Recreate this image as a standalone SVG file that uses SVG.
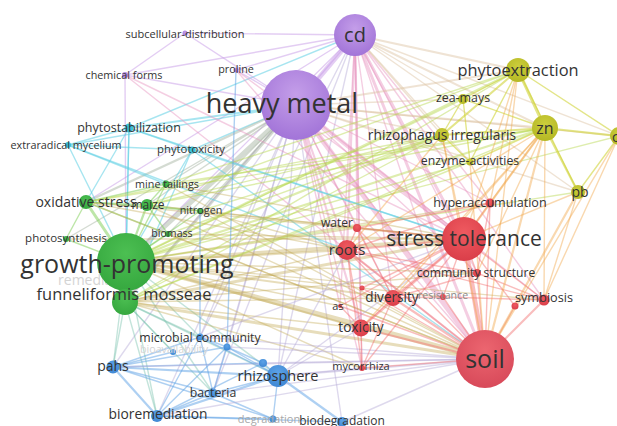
<svg xmlns="http://www.w3.org/2000/svg" width="617" height="426" viewBox="0 0 617 426">
<defs>
<radialGradient id="gp" cx="50%" cy="35%" r="65%"><stop offset="0" stop-color="#c49ee9"/><stop offset="1" stop-color="#a274d8"/></radialGradient>
<radialGradient id="gg" cx="50%" cy="35%" r="65%"><stop offset="0" stop-color="#4cbf52"/><stop offset="1" stop-color="#36a83f"/></radialGradient>
<radialGradient id="gr" cx="50%" cy="35%" r="65%"><stop offset="0" stop-color="#ef5a60"/><stop offset="1" stop-color="#da3e49"/></radialGradient>
<radialGradient id="gs" cx="50%" cy="35%" r="65%"><stop offset="0" stop-color="#ec6670"/><stop offset="1" stop-color="#d84a5a"/></radialGradient>
<radialGradient id="gb" cx="50%" cy="35%" r="65%"><stop offset="0" stop-color="#5ca2e6"/><stop offset="1" stop-color="#3f88d4"/></radialGradient>
<radialGradient id="gy" cx="50%" cy="35%" r="65%"><stop offset="0" stop-color="#ccce3c"/><stop offset="1" stop-color="#b5b824"/></radialGradient>
</defs>
<style>
line{stroke-linecap:round;stroke-width:1.4}
.p{stroke:#c79be8;stroke-opacity:.5}
.pk{stroke:#e793bf;stroke-opacity:.45}
.py{stroke:#dcc0a0;stroke-opacity:.45}
.pg{stroke:#a9b8a5;stroke-opacity:.5}
.c{stroke:#5fcfe3;stroke-opacity:.55}
.g{stroke:#7bcd52;stroke-opacity:.5}
.o{stroke:#c2aa56;stroke-opacity:.4}
.gy{stroke:#b6d84c;stroke-opacity:.45}
.gb{stroke:#7cc4b0;stroke-opacity:.45}
.b{stroke:#5ea1e6;stroke-opacity:.5}
.bp{stroke:#b6aad8;stroke-opacity:.45}
.r{stroke:#f26c6c;stroke-opacity:.45}
.ry{stroke:#f2a84e;stroke-opacity:.45}
.y{stroke:#d0d43a;stroke-opacity:.6}
.w2{stroke-width:2.2}.w3{stroke-width:3}.w4{stroke-width:4}.w5{stroke-width:5}
text{font-family:"Open Sans","Liberation Sans",sans-serif;fill:#333;text-anchor:middle}
.fp{fill:url(#gp)}.fg{fill:url(#gg)}.fr{fill:url(#gr)}.fs{fill:url(#gs)}.fb{fill:url(#gb)}.fy{fill:url(#gy)}.fc{fill:#3cc2d9}
.faded{fill:#d4d4d4}
</style>
<g id="connectors">
<line class="p w5" x1="355" y1="35" x2="296" y2="105"/>
<line class="p" x1="355" y1="35" x2="185" y2="33"/>
<line class="p" x1="355" y1="35" x2="125" y2="75"/>
<line class="p" x1="355" y1="35" x2="236" y2="70"/>
<line class="p" x1="355" y1="35" x2="126" y2="262"/>
<line class="p" x1="355" y1="35" x2="125" y2="302"/>
<line class="p" x1="355" y1="35" x2="86" y2="202"/>
<line class="c" x1="355" y1="35" x2="129" y2="128"/>
<line class="bp" x1="355" y1="35" x2="278" y2="376"/>
<line class="bp" x1="355" y1="35" x2="213" y2="393"/>
<line class="bp" x1="355" y1="35" x2="200" y2="337"/>
<line class="pk w3" x1="355" y1="35" x2="464" y2="239"/>
<line class="pk w3" x1="355" y1="35" x2="485" y2="359"/>
<line class="pk w2" x1="355" y1="35" x2="347" y2="250"/>
<line class="pk w2" x1="355" y1="35" x2="361" y2="328"/>
<line class="pk" x1="355" y1="35" x2="393" y2="298"/>
<line class="pk" x1="355" y1="35" x2="477" y2="273"/>
<line class="pk" x1="355" y1="35" x2="490" y2="203"/>
<line class="pk" x1="355" y1="35" x2="357" y2="228"/>
<line class="pk" x1="355" y1="35" x2="362" y2="368"/>
<line class="pk" x1="355" y1="35" x2="544" y2="300"/>
<line class="pk" x1="355" y1="35" x2="443" y2="297"/>
<line class="pk" x1="355" y1="35" x2="340" y2="306"/>
<line class="py w2" x1="355" y1="35" x2="518" y2="70"/>
<line class="py w2" x1="355" y1="35" x2="545" y2="128"/>
<line class="py" x1="355" y1="35" x2="463" y2="99"/>
<line class="py" x1="355" y1="35" x2="442" y2="135"/>
<line class="py" x1="355" y1="35" x2="470" y2="162"/>
<line class="py" x1="355" y1="35" x2="619" y2="136"/>
<line class="py" x1="355" y1="35" x2="578" y2="192"/>
<line class="p" x1="296" y1="105" x2="185" y2="33"/>
<line class="p" x1="296" y1="105" x2="125" y2="75"/>
<line class="p" x1="296" y1="105" x2="236" y2="70"/>
<line class="c w2" x1="296" y1="105" x2="129" y2="128"/>
<line class="c" x1="296" y1="105" x2="192" y2="150"/>
<line class="c" x1="296" y1="105" x2="68" y2="145"/>
<line class="pg w5" x1="296" y1="105" x2="126" y2="262"/>
<line class="pg w3" x1="296" y1="105" x2="125" y2="302"/>
<line class="pg w2" x1="296" y1="105" x2="86" y2="202"/>
<line class="pg" x1="296" y1="105" x2="147" y2="205"/>
<line class="pg" x1="296" y1="105" x2="200" y2="211"/>
<line class="pg" x1="296" y1="105" x2="168" y2="234"/>
<line class="pg" x1="296" y1="105" x2="166" y2="184"/>
<line class="pg" x1="296" y1="105" x2="66" y2="239"/>
<line class="pk w4" x1="296" y1="105" x2="464" y2="239"/>
<line class="pk w5" x1="296" y1="105" x2="485" y2="359"/>
<line class="pk w2" x1="296" y1="105" x2="347" y2="250"/>
<line class="pk w2" x1="296" y1="105" x2="361" y2="328"/>
<line class="pk" x1="296" y1="105" x2="393" y2="298"/>
<line class="pk" x1="296" y1="105" x2="477" y2="273"/>
<line class="pk" x1="296" y1="105" x2="490" y2="203"/>
<line class="pk" x1="296" y1="105" x2="357" y2="228"/>
<line class="pk" x1="296" y1="105" x2="362" y2="368"/>
<line class="pk" x1="296" y1="105" x2="544" y2="300"/>
<line class="pk" x1="296" y1="105" x2="340" y2="306"/>
<line class="pk" x1="296" y1="105" x2="443" y2="297"/>
<line class="py w2" x1="296" y1="105" x2="545" y2="128"/>
<line class="py w2" x1="296" y1="105" x2="518" y2="70"/>
<line class="py" x1="296" y1="105" x2="463" y2="99"/>
<line class="py" x1="296" y1="105" x2="442" y2="135"/>
<line class="py" x1="296" y1="105" x2="470" y2="162"/>
<line class="py" x1="296" y1="105" x2="578" y2="192"/>
<line class="py" x1="296" y1="105" x2="619" y2="136"/>
<line class="bp" x1="296" y1="105" x2="278" y2="376"/>
<line class="bp" x1="296" y1="105" x2="213" y2="393"/>
<line class="bp" x1="296" y1="105" x2="200" y2="337"/>
<line class="bp" x1="296" y1="105" x2="157" y2="416"/>
<line class="bp" x1="296" y1="105" x2="113" y2="367"/>
<line class="bp" x1="296" y1="105" x2="227" y2="347"/>
<line class="bp" x1="296" y1="105" x2="342" y2="422"/>
<line class="p" x1="125" y1="75" x2="185" y2="33"/>
<line class="p" x1="125" y1="75" x2="126" y2="262"/>
<line class="pk" x1="125" y1="75" x2="464" y2="239"/>
<line class="pk" x1="125" y1="75" x2="485" y2="359"/>
<line class="pk" x1="236" y1="70" x2="485" y2="359"/>
<line class="pk" x1="236" y1="70" x2="464" y2="239"/>
<line class="c" x1="129" y1="128" x2="68" y2="145"/>
<line class="c" x1="129" y1="128" x2="192" y2="150"/>
<line class="c" x1="129" y1="128" x2="126" y2="262"/>
<line class="c" x1="129" y1="128" x2="125" y2="302"/>
<line class="c" x1="129" y1="128" x2="464" y2="239"/>
<line class="c" x1="129" y1="128" x2="86" y2="202"/>
<line class="c" x1="68" y1="145" x2="192" y2="150"/>
<line class="c" x1="68" y1="145" x2="126" y2="262"/>
<line class="c" x1="68" y1="145" x2="166" y2="184"/>
<line class="c" x1="68" y1="145" x2="347" y2="250"/>
<line class="c" x1="192" y1="150" x2="464" y2="239"/>
<line class="c" x1="192" y1="150" x2="485" y2="359"/>
<line class="c" x1="192" y1="150" x2="126" y2="262"/>
<line class="c" x1="192" y1="150" x2="125" y2="302"/>
<line class="g w3" x1="126" y1="262" x2="86" y2="202"/>
<line class="g w2" x1="126" y1="262" x2="147" y2="205"/>
<line class="g" x1="126" y1="262" x2="200" y2="211"/>
<line class="g" x1="126" y1="262" x2="66" y2="239"/>
<line class="g" x1="126" y1="262" x2="168" y2="234"/>
<line class="g" x1="126" y1="262" x2="166" y2="184"/>
<line class="g w3" x1="126" y1="262" x2="125" y2="302"/>
<line class="o w4" x1="126" y1="262" x2="464" y2="239"/>
<line class="o w5" x1="126" y1="262" x2="485" y2="359"/>
<line class="o w2" x1="126" y1="262" x2="347" y2="250"/>
<line class="o w2" x1="126" y1="262" x2="361" y2="328"/>
<line class="o w2" x1="126" y1="262" x2="393" y2="298"/>
<line class="o" x1="126" y1="262" x2="477" y2="273"/>
<line class="o" x1="126" y1="262" x2="490" y2="203"/>
<line class="o" x1="126" y1="262" x2="357" y2="228"/>
<line class="o" x1="126" y1="262" x2="362" y2="368"/>
<line class="o" x1="126" y1="262" x2="544" y2="300"/>
<line class="o" x1="126" y1="262" x2="443" y2="297"/>
<line class="o" x1="126" y1="262" x2="340" y2="306"/>
<line class="gy w2" x1="126" y1="262" x2="442" y2="135"/>
<line class="gy w2" x1="126" y1="262" x2="545" y2="128"/>
<line class="gy w2" x1="126" y1="262" x2="518" y2="70"/>
<line class="gy" x1="126" y1="262" x2="470" y2="162"/>
<line class="gy" x1="126" y1="262" x2="463" y2="99"/>
<line class="gy" x1="126" y1="262" x2="578" y2="192"/>
<line class="gy" x1="126" y1="262" x2="619" y2="136"/>
<line class="gb" x1="126" y1="262" x2="113" y2="367"/>
<line class="gb" x1="126" y1="262" x2="200" y2="337"/>
<line class="gb" x1="126" y1="262" x2="278" y2="376"/>
<line class="gb" x1="126" y1="262" x2="157" y2="416"/>
<line class="gb" x1="126" y1="262" x2="213" y2="393"/>
<line class="o w3" x1="125" y1="302" x2="464" y2="239"/>
<line class="o w3" x1="125" y1="302" x2="485" y2="359"/>
<line class="o" x1="125" y1="302" x2="347" y2="250"/>
<line class="o" x1="125" y1="302" x2="361" y2="328"/>
<line class="o" x1="125" y1="302" x2="393" y2="298"/>
<line class="o" x1="125" y1="302" x2="477" y2="273"/>
<line class="o" x1="125" y1="302" x2="362" y2="368"/>
<line class="gy" x1="125" y1="302" x2="545" y2="128"/>
<line class="gy" x1="125" y1="302" x2="442" y2="135"/>
<line class="gy" x1="125" y1="302" x2="518" y2="70"/>
<line class="gy" x1="125" y1="302" x2="470" y2="162"/>
<line class="gb" x1="125" y1="302" x2="113" y2="367"/>
<line class="gb" x1="125" y1="302" x2="157" y2="416"/>
<line class="gb" x1="125" y1="302" x2="200" y2="337"/>
<line class="gb" x1="125" y1="302" x2="278" y2="376"/>
<line class="gb" x1="125" y1="302" x2="213" y2="393"/>
<line class="gb" x1="125" y1="302" x2="173" y2="352"/>
<line class="g" x1="86" y1="202" x2="147" y2="205"/>
<line class="g" x1="86" y1="202" x2="166" y2="184"/>
<line class="g" x1="86" y1="202" x2="66" y2="239"/>
<line class="g" x1="86" y1="202" x2="168" y2="234"/>
<line class="g" x1="86" y1="202" x2="200" y2="211"/>
<line class="o" x1="86" y1="202" x2="464" y2="239"/>
<line class="o" x1="86" y1="202" x2="485" y2="359"/>
<line class="o" x1="86" y1="202" x2="347" y2="250"/>
<line class="gy" x1="86" y1="202" x2="442" y2="135"/>
<line class="gy" x1="86" y1="202" x2="545" y2="128"/>
<line class="g" x1="147" y1="205" x2="200" y2="211"/>
<line class="g" x1="147" y1="205" x2="166" y2="184"/>
<line class="g" x1="147" y1="205" x2="168" y2="234"/>
<line class="o" x1="147" y1="205" x2="464" y2="239"/>
<line class="o" x1="147" y1="205" x2="485" y2="359"/>
<line class="gy" x1="147" y1="205" x2="545" y2="128"/>
<line class="gy" x1="147" y1="205" x2="442" y2="135"/>
<line class="gy" x1="147" y1="205" x2="518" y2="70"/>
<line class="gy" x1="166" y1="184" x2="545" y2="128"/>
<line class="gy" x1="166" y1="184" x2="518" y2="70"/>
<line class="o" x1="166" y1="184" x2="464" y2="239"/>
<line class="o" x1="166" y1="184" x2="485" y2="359"/>
<line class="o" x1="200" y1="211" x2="464" y2="239"/>
<line class="o" x1="200" y1="211" x2="485" y2="359"/>
<line class="o" x1="200" y1="211" x2="347" y2="250"/>
<line class="gy" x1="200" y1="211" x2="442" y2="135"/>
<line class="o" x1="168" y1="234" x2="464" y2="239"/>
<line class="o" x1="168" y1="234" x2="485" y2="359"/>
<line class="gy" x1="168" y1="234" x2="442" y2="135"/>
<line class="o" x1="66" y1="239" x2="464" y2="239"/>
<line class="b w2" x1="113" y1="367" x2="157" y2="416"/>
<line class="b w2" x1="113" y1="367" x2="278" y2="376"/>
<line class="b" x1="113" y1="367" x2="200" y2="337"/>
<line class="b" x1="113" y1="367" x2="213" y2="393"/>
<line class="b" x1="113" y1="367" x2="263" y2="363"/>
<line class="b" x1="113" y1="367" x2="227" y2="347"/>
<line class="b" x1="113" y1="367" x2="273" y2="419"/>
<line class="b" x1="113" y1="367" x2="173" y2="352"/>
<line class="b w2" x1="157" y1="416" x2="278" y2="376"/>
<line class="b" x1="157" y1="416" x2="213" y2="393"/>
<line class="b" x1="157" y1="416" x2="273" y2="419"/>
<line class="b" x1="157" y1="416" x2="342" y2="422"/>
<line class="b" x1="157" y1="416" x2="200" y2="337"/>
<line class="b" x1="157" y1="416" x2="263" y2="363"/>
<line class="b" x1="157" y1="416" x2="227" y2="347"/>
<line class="b w2" x1="278" y1="376" x2="342" y2="422"/>
<line class="b" x1="278" y1="376" x2="200" y2="337"/>
<line class="b" x1="278" y1="376" x2="227" y2="347"/>
<line class="b" x1="278" y1="376" x2="213" y2="393"/>
<line class="b" x1="278" y1="376" x2="273" y2="419"/>
<line class="b" x1="278" y1="376" x2="263" y2="363"/>
<line class="b" x1="213" y1="393" x2="200" y2="337"/>
<line class="b" x1="213" y1="393" x2="273" y2="419"/>
<line class="b" x1="213" y1="393" x2="227" y2="347"/>
<line class="b" x1="200" y1="337" x2="227" y2="347"/>
<line class="b" x1="227" y1="347" x2="263" y2="363"/>
<line class="b" x1="200" y1="337" x2="200" y2="211"/>
<line class="b" x1="227" y1="347" x2="236" y2="70"/>
<line class="bp w2" x1="278" y1="376" x2="485" y2="359"/>
<line class="bp" x1="278" y1="376" x2="464" y2="239"/>
<line class="bp" x1="278" y1="376" x2="361" y2="328"/>
<line class="bp" x1="278" y1="376" x2="362" y2="368"/>
<line class="bp" x1="278" y1="376" x2="347" y2="250"/>
<line class="bp" x1="113" y1="367" x2="485" y2="359"/>
<line class="bp" x1="157" y1="416" x2="485" y2="359"/>
<line class="bp" x1="213" y1="393" x2="485" y2="359"/>
<line class="bp" x1="200" y1="337" x2="464" y2="239"/>
<line class="bp" x1="200" y1="337" x2="485" y2="359"/>
<line class="bp" x1="227" y1="347" x2="485" y2="359"/>
<line class="bp" x1="342" y1="422" x2="485" y2="359"/>
<line class="bp" x1="263" y1="363" x2="485" y2="359"/>
<line class="r w5" x1="485" y1="359" x2="464" y2="239"/>
<line class="r w2" x1="485" y1="359" x2="347" y2="250"/>
<line class="r w2" x1="485" y1="359" x2="361" y2="328"/>
<line class="r w2" x1="485" y1="359" x2="393" y2="298"/>
<line class="r" x1="485" y1="359" x2="477" y2="273"/>
<line class="r w2" x1="485" y1="359" x2="544" y2="300"/>
<line class="r" x1="485" y1="359" x2="515" y2="306"/>
<line class="r" x1="485" y1="359" x2="490" y2="203"/>
<line class="r" x1="485" y1="359" x2="357" y2="228"/>
<line class="r" x1="485" y1="359" x2="340" y2="306"/>
<line class="r" x1="485" y1="359" x2="362" y2="368"/>
<line class="r" x1="485" y1="359" x2="443" y2="297"/>
<line class="r" x1="485" y1="359" x2="362" y2="288"/>
<line class="r w2" x1="464" y1="239" x2="347" y2="250"/>
<line class="r" x1="464" y1="239" x2="357" y2="228"/>
<line class="r w2" x1="464" y1="239" x2="361" y2="328"/>
<line class="r w2" x1="464" y1="239" x2="393" y2="298"/>
<line class="r" x1="464" y1="239" x2="477" y2="273"/>
<line class="r" x1="464" y1="239" x2="544" y2="300"/>
<line class="r" x1="464" y1="239" x2="515" y2="306"/>
<line class="r" x1="464" y1="239" x2="490" y2="203"/>
<line class="r" x1="464" y1="239" x2="443" y2="297"/>
<line class="r" x1="464" y1="239" x2="340" y2="306"/>
<line class="r" x1="464" y1="239" x2="362" y2="368"/>
<line class="r" x1="464" y1="239" x2="362" y2="288"/>
<line class="r" x1="347" y1="250" x2="357" y2="228"/>
<line class="r" x1="347" y1="250" x2="361" y2="328"/>
<line class="r" x1="347" y1="250" x2="393" y2="298"/>
<line class="r" x1="347" y1="250" x2="477" y2="273"/>
<line class="r" x1="347" y1="250" x2="490" y2="203"/>
<line class="r" x1="347" y1="250" x2="362" y2="368"/>
<line class="r" x1="347" y1="250" x2="544" y2="300"/>
<line class="r" x1="361" y1="328" x2="362" y2="368"/>
<line class="r" x1="361" y1="328" x2="393" y2="298"/>
<line class="r" x1="393" y1="298" x2="362" y2="368"/>
<line class="r" x1="340" y1="306" x2="361" y2="328"/>
<line class="r" x1="393" y1="298" x2="477" y2="273"/>
<line class="r" x1="393" y1="298" x2="443" y2="297"/>
<line class="r" x1="357" y1="228" x2="490" y2="203"/>
<line class="r" x1="357" y1="228" x2="393" y2="298"/>
<line class="r" x1="490" y1="203" x2="477" y2="273"/>
<line class="r" x1="477" y1="273" x2="544" y2="300"/>
<line class="r" x1="443" y1="297" x2="544" y2="300"/>
<line class="ry" x1="490" y1="203" x2="545" y2="128"/>
<line class="ry" x1="490" y1="203" x2="518" y2="70"/>
<line class="ry" x1="490" y1="203" x2="470" y2="162"/>
<line class="ry w2" x1="464" y1="239" x2="545" y2="128"/>
<line class="ry" x1="464" y1="239" x2="518" y2="70"/>
<line class="ry" x1="464" y1="239" x2="442" y2="135"/>
<line class="ry" x1="464" y1="239" x2="578" y2="192"/>
<line class="ry w2" x1="485" y1="359" x2="545" y2="128"/>
<line class="ry w2" x1="485" y1="359" x2="578" y2="192"/>
<line class="ry" x1="485" y1="359" x2="518" y2="70"/>
<line class="ry" x1="485" y1="359" x2="619" y2="136"/>
<line class="ry" x1="485" y1="359" x2="442" y2="135"/>
<line class="ry" x1="485" y1="359" x2="470" y2="162"/>
<line class="ry" x1="544" y1="300" x2="545" y2="128"/>
<line class="ry" x1="544" y1="300" x2="578" y2="192"/>
<line class="ry" x1="544" y1="300" x2="619" y2="136"/>
<line class="ry" x1="477" y1="273" x2="545" y2="128"/>
<line class="ry" x1="347" y1="250" x2="545" y2="128"/>
<line class="ry" x1="347" y1="250" x2="442" y2="135"/>
<line class="ry" x1="361" y1="328" x2="545" y2="128"/>
<line class="ry" x1="393" y1="298" x2="545" y2="128"/>
<line class="y w3" x1="518" y1="70" x2="545" y2="128"/>
<line class="y" x1="518" y1="70" x2="463" y2="99"/>
<line class="y w2" x1="518" y1="70" x2="442" y2="135"/>
<line class="y" x1="518" y1="70" x2="619" y2="136"/>
<line class="y" x1="518" y1="70" x2="578" y2="192"/>
<line class="y" x1="518" y1="70" x2="470" y2="162"/>
<line class="y w2" x1="545" y1="128" x2="619" y2="136"/>
<line class="y w2" x1="545" y1="128" x2="578" y2="192"/>
<line class="y w2" x1="545" y1="128" x2="442" y2="135"/>
<line class="y" x1="545" y1="128" x2="470" y2="162"/>
<line class="y" x1="545" y1="128" x2="463" y2="99"/>
<line class="y" x1="578" y1="192" x2="619" y2="136"/>
<line class="y" x1="442" y1="135" x2="463" y2="99"/>
<line class="y" x1="442" y1="135" x2="470" y2="162"/>
<line class="y" x1="463" y1="99" x2="470" y2="162"/>
</g>
<g id="node-remediation"><circle cx="112" cy="283" r="3" class="fg"/><text x="98" y="285" font-size="14" class="faded">remediation</text></g>
<g id="node-subcellular-distribution"><circle cx="185" cy="33" r="2.5" class="fp"/><text x="185" y="38" font-size="11">subcellular-distribution</text></g>
<g id="node-chemical-forms"><circle cx="125" cy="75" r="3" class="fp"/><text x="124" y="79" font-size="10.8">chemical forms</text></g>
<g id="node-proline"><circle cx="236" cy="70" r="2.5" class="fp"/><text x="236" y="73" font-size="10.8">proline</text></g>
<g id="node-phytostabilization"><circle cx="129" cy="128" r="4.5" class="fc"/><text x="129" y="132" font-size="12.5">phytostabilization</text></g>
<g id="node-extraradical-mycelium"><circle cx="68" cy="145" r="3" class="fc"/><text x="66" y="149" font-size="10.8">extraradical mycelium</text></g>
<g id="node-phytotoxicity"><circle cx="192" cy="150" r="3.5" class="fc"/><text x="191" y="153" font-size="11.3">phytotoxicity</text></g>
<g id="node-mine-tailings"><circle cx="166" cy="184" r="3.5" class="fg"/><text x="167" y="188" font-size="10.8">mine tailings</text></g>
<g id="node-maize"><circle cx="147" cy="205" r="6" class="fg"/><text x="148" y="209" font-size="12">maize</text></g>
<g id="node-oxidative-stress"><circle cx="86" cy="202" r="7" class="fg"/><text x="86" y="207" font-size="14">oxidative stress</text></g>
<g id="node-nitrogen"><circle cx="200" cy="211" r="3" class="fg"/><text x="201" y="214" font-size="10.8">nitrogen</text></g>
<g id="node-photosynthesis"><circle cx="66" cy="239" r="3" class="fg"/><text x="66" y="242" font-size="11.5">photosynthesis</text></g>
<g id="node-biomass"><circle cx="168" cy="234" r="3" class="fg"/><text x="172" y="237" font-size="10.6">biomass</text></g>
<g id="node-growth-promoting"><circle cx="126" cy="262" r="29" class="fg"/><text x="127" y="273" font-size="25">growth-promoting</text></g>
<g id="node-funneliformis-mosseae"><circle cx="125" cy="302" r="13" class="fg"/><text x="124" y="300" font-size="16.4">funneliformis mosseae</text></g>
<g id="node-bioavailability"><circle cx="173" cy="352" r="3" class="fb"/><text x="174" y="353" font-size="10.7" class="faded">bioavailability</text></g>
<g id="node-microbial-community"><circle cx="200" cy="337" r="3.5" class="fb"/><circle cx="227" cy="347" r="3.5" class="fb"/><text x="200" y="342" font-size="12.3">microbial community</text></g>
<g id="node-pahs"><circle cx="113" cy="367" r="6.5" class="fb"/><text x="113" y="371" font-size="14">pahs</text></g>
<g id="node-rhizosphere"><circle cx="263" cy="363" r="4" class="fb"/><circle cx="278" cy="376" r="11" class="fb"/><text x="278" y="381" font-size="14.5">rhizosphere</text></g>
<g id="node-bacteria"><circle cx="213" cy="393" r="4.5" class="fb"/><text x="213" y="397" font-size="12.3">bacteria</text></g>
<g id="node-bioremediation"><circle cx="157" cy="416" r="6" class="fb"/><text x="158" y="419" font-size="13.8">bioremediation</text></g>
<g id="node-degradation"><circle cx="273" cy="419" r="3.5" class="fb"/><text x="269" y="423" font-size="11" style="fill:#a8a8a8">degradation</text></g>
<g id="node-biodegradation"><circle cx="342" cy="422" r="5" class="fb"/><text x="342" y="425" font-size="12">biodegradation</text></g>
<g id="node-mycorrhiza"><circle cx="362" cy="368" r="3" class="fr"/><text x="361" y="370" font-size="11">mycorrhiza</text></g>
<g id="node-toxicity"><circle cx="361" cy="328" r="8.5" class="fr"/><text x="361" y="332" font-size="13.7">toxicity</text></g>
<g id="node-as"><circle cx="362" cy="288" r="2.5" class="fr"/><circle cx="340" cy="306" r="2" class="fr"/><text x="338" y="310" font-size="11">as</text></g>
<g id="node-diversity"><circle cx="393" cy="298" r="8" class="fr"/><text x="392" y="302" font-size="13.6">diversity</text></g>
<g id="node-resistance"><circle cx="443" cy="297" r="3" class="fr"/><text x="443" y="299" font-size="10.6" style="fill:#8a8a8a">resistance</text></g>
<g id="node-community-structure"><circle cx="477" cy="273" r="4" class="fr"/><text x="476" y="277" font-size="12.1">community structure</text></g>
<g id="node-symbiosis"><circle cx="515" cy="306" r="3.5" class="fr"/><circle cx="544" cy="300" r="5.5" class="fr"/><text x="544" y="302" font-size="12.7">symbiosis</text></g>
<g id="node-water"><circle cx="357" cy="228" r="4" class="fr"/><text x="337" y="227" font-size="12">water</text></g>
<g id="node-roots"><circle cx="347" cy="250" r="10" class="fr"/><text x="347" y="255" font-size="15">roots</text></g>
<g id="node-hyperaccumulation"><circle cx="490" cy="203" r="4.5" class="fr"/><text x="490" y="207" font-size="12.6">hyperaccumulation</text></g>
<g id="node-stress-tolerance"><circle cx="464" cy="239" r="22" class="fr"/><text x="464" y="246" font-size="21">stress tolerance</text></g>
<g id="node-soil"><circle cx="485" cy="359" r="29" class="fs"/><text x="485" y="368" font-size="25">soil</text></g>
<g id="node-zea-mays"><circle cx="463" cy="99" r="5" class="fy"/><text x="463" y="102" font-size="12.4">zea-mays</text></g>
<g id="node-rhizophagus-irregularis"><circle cx="442" cy="135" r="7" class="fy"/><text x="442" y="140" font-size="13.8">rhizophagus irregularis</text></g>
<g id="node-enzyme-activities"><circle cx="470" cy="162" r="3.5" class="fy"/><text x="470" y="165" font-size="12.3">enzyme-activities</text></g>
<g id="node-pb"><circle cx="578" cy="192" r="7" class="fy"/><text x="580" y="197" font-size="14">pb</text></g>
<g id="node-cu"><circle cx="619" cy="136" r="9" class="fy"/><text x="612" y="142" font-size="14" style="text-anchor:start">cu</text></g>
<g id="node-zn"><circle cx="545" cy="128" r="13" class="fy"/><text x="545" y="134" font-size="16">zn</text></g>
<g id="node-phytoextraction"><circle cx="518" cy="70" r="12" class="fy"/><text x="518" y="76" font-size="16.4">phytoextraction</text></g>
<g id="node-cd"><circle cx="355" cy="35" r="21" class="fp"/><text x="355" y="42" font-size="20">cd</text></g>
<g id="node-heavy-metal"><circle cx="296" cy="105" r="35" class="fp"/><text x="282" y="113" font-size="27">heavy metal</text></g>
</svg>
